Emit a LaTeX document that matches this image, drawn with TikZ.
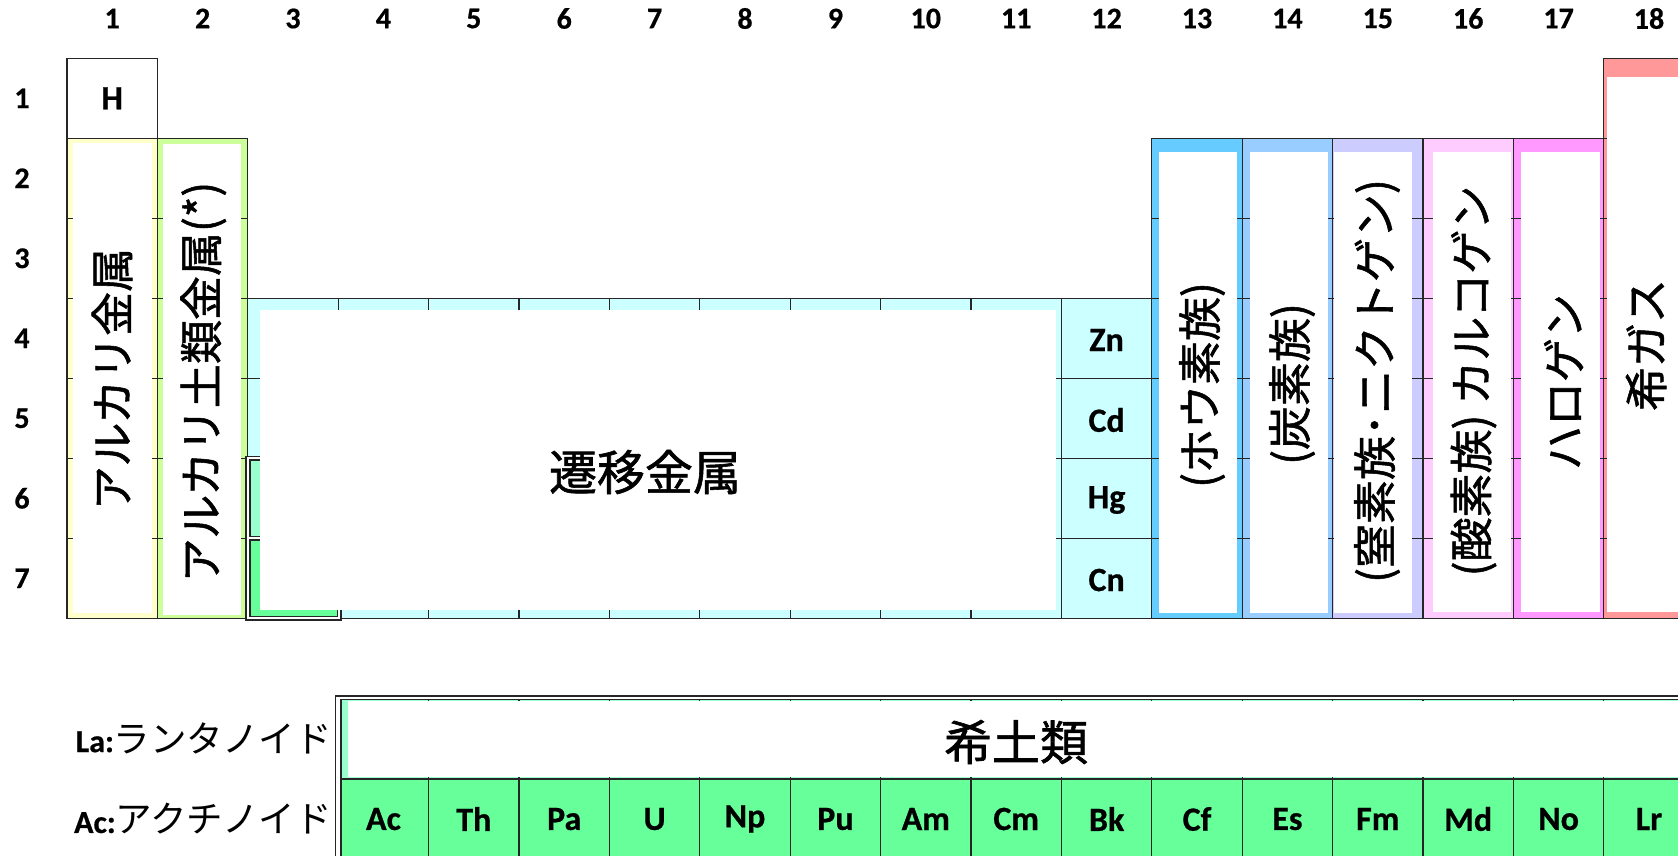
\documentclass[tikz,border=0pt]{standalone}
\usepackage{fontspec}
\setmainfont{Carlito}[BoldFeatures={FakeBold=0.6}]
\newfontfamily\jp{Noto Sans CJK JP}
\newfontfamily\jpb{Noto Sans CJK JP}[FakeBold=1.2]
\definecolor{linec}{HTML}{262626}
\definecolor{yel}{HTML}{FFFFCC}
\definecolor{lgreen}{HTML}{CCFF99}
\definecolor{cyanc}{HTML}{CCFFFF}
\definecolor{mint}{HTML}{99FFCC}
\definecolor{grn}{HTML}{66FF99}
\definecolor{c13}{HTML}{66CCFF}
\definecolor{c14}{HTML}{99CCFF}
\definecolor{c15}{HTML}{CCCCFF}
\definecolor{c16}{HTML}{FFCCFF}
\definecolor{c17}{HTML}{FF99FF}
\definecolor{c18}{HTML}{FF9999}
\begin{document}
\begin{tikzpicture}[x=1pt,y=-1pt,
  grid/.style={draw=linec, line width=1.3pt},
  hdr/.style={font=\fontsize{30}{30}\selectfont\bfseries, inner sep=0pt},
  sym/.style={font=\fontsize{34}{34}\selectfont\bfseries, inner sep=0pt},
  vlab/.style={font=\jpb\fontsize{44}{44}\selectfont, rotate=90, inner sep=0pt},
  hlab/.style={font=\jpb\fontsize{48}{48}\selectfont, inner sep=0pt},
  side/.style={inner sep=0pt, anchor=east}
]
\useasboundingbox (0,0) rectangle (1678,855);
\clip (0,0) rectangle (1678,855);
\fill[white] (0,0) rectangle (1678,855);

% headers
\foreach \c in {1,...,18} \node[hdr] (ch\c) at ({67+(\c-0.5)*90.4}, 18.5) {\c};
\foreach \r in {1,...,7} \node[hdr] (rh\r) at (22, {58.3+(\r-0.5)*80}) {\r};

% H
\draw[grid, fill=white] (67,58.3) rectangle (157.4,138.3);
\node[sym] (H) at (112.2, 98.3) {H};

% column 1
\foreach \r in {2,...,7} \draw[grid, fill=yel] (67,{58.3+(\r-1)*80}) rectangle (157.4,{58.3+\r*80});
\fill[white] (72.7,143.3) rectangle (151.7,613.3);
\node[vlab] (alk) at (112,379) {アルカリ金属};

% column 2
\foreach \r in {2,...,7} \draw[grid, fill=lgreen] (157.4,{58.3+(\r-1)*80}) rectangle (247.8,{58.3+\r*80});
\fill[white] (163,144) rectangle (240.7,615);
\node[vlab] (alkea) at (203.3,382) {アルカリ土類金属(*)};

% transition metals
\foreach \c in {3,...,12} \foreach \r in {4,...,7}
  \draw[grid, fill=cyanc] ({67+(\c-1)*90.4},{58.3+(\r-1)*80}) rectangle ({67+\c*90.4},{58.3+\r*80});
\draw[grid, fill=white] (246,456.7) rectangle (341,620);
\draw[grid, fill=mint] (250,460) rectangle (337.3,536.7);
\draw[grid, fill=grn] (250,540) rectangle (337.3,616.7);
\fill[white] (260,310) rectangle (1056,610);
\node[hlab] (trans) at (645,472) {遷移金属};
\node[sym] (Zn) at (1106.6,340) {Zn};
\node[sym] (Cd) at (1106.6,420) {Cd};
\node[sym] (Hg) at (1106.6,500) {Hg};
\node[sym] (Cn) at (1106.6,580) {Cn};

% groups 13-17
\foreach \c/\col in {13/c13,14/c14,15/c15,16/c16,17/c17}
  \foreach \r in {2,...,7}
    \draw[grid, fill=\col] ({67+(\c-1)*90.4},{58.3+(\r-1)*80}) rectangle ({67+\c*90.4},{58.3+\r*80});
\foreach \c in {1,...,7}
  \draw[grid, fill=c18] (1603.8,{58.3+(\c-1)*80}) rectangle (1694.2,{58.3+\c*80});
\fill[white] (1159,151.7) rectangle (1236.6,613.3);
\fill[white] (1249.8,151.7) rectangle (1327.5,613.3);
\fill[white] (1333.5,151.7) rectangle (1411.6,612.7);
\fill[white] (1432.5,151.7) rectangle (1510.5,611.7);
\fill[white] (1521.4,151.7) rectangle (1599.5,611.7);
\fill[white] (1606.7,76.7) rectangle (1700,611.7);
\node[vlab] (g13) at (1202,385) {(ホウ素族)};
\node[vlab] (g14) at (1292,384) {(炭素族)};
\node[vlab] (g15) at (1377,381) {(窒素族･ニクトゲン)};
\node[vlab] (g16) at (1473.5,381) {(酸素族) カルコゲン};
\node[vlab] (g17) at (1563.6,382) {ハロゲン};
\node[vlab] (g18) at (1646,345) {希ガス};

% lanthanides / actinides
\draw[grid] (335.7,870) -- (335.7,696) -- (1700,696);
\draw[grid, fill=mint] (341,699.3) rectangle (428.6,779);
\foreach \c in {5,...,18}
  \draw[grid, fill=mint] ({67+(\c-1)*90.4},699.3) rectangle ({67+\c*90.4},779);
\fill[white] (348,700.7) rectangle (1700,776.7);
\node[hlab] (re) at (1016,742) {希土類};
\draw[grid, fill=grn] (341,779) rectangle (428.6,870);
\foreach \c in {5,...,18}
  \draw[grid, fill=grn] ({67+(\c-1)*90.4},779) rectangle ({67+\c*90.4},870);
\foreach \c/\s in {4/Ac,5/Th,6/Pa,7/U,8/Np,9/Pu,10/Am,11/Cm,12/Bk,13/Cf,14/Es,15/Fm,16/Md,17/No,18/Lr}
  \node[sym] (ac\c) at ({67+(\c-0.5)*90.4},819) {\s};

% side labels
\node[side] (lalab) at (332,738) {{\fontsize{32}{32}\selectfont\bfseries La:}{\jp\fontsize{36.5}{36.5}\selectfont ランタノイド}};
\node[side] (aclab) at (332,819) {{\fontsize{32}{32}\selectfont\bfseries Ac:}{\jp\fontsize{36.5}{36.5}\selectfont アクチノイド}};
\end{tikzpicture}
\end{document}
